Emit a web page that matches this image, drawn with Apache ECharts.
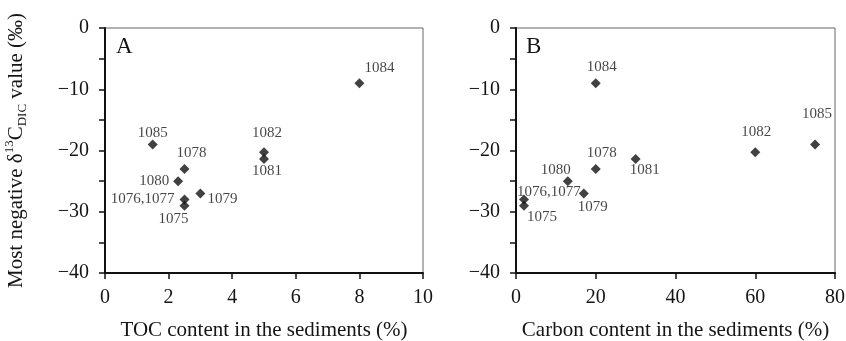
<!DOCTYPE html>
<html>
<head>
<meta charset="utf-8">
<script src="https://cdn.jsdelivr.net/npm/echarts@6/dist/echarts.min.js"></script>
<style>
  html, body { margin: 0; padding: 0; background: #fff; }
  #chart { width: 846px; height: 341px; }
</style>
</head>
<body>
<div id="chart"></div>
<script>
// site numbers and values
var sites  = ['1075', '1076,1077', '1078', '1079', '1080', '1081', '1082', '1084', '1085'];
var toc    = [2.5, 2.5, 2.5, 3, 2.3, 5, 5, 8, 1.5];        // TOC content (%)
var carbon = [2, 2, 20, 17, 13, 30, 60, 20, 75];           // carbon content (%)
var d13C   = [-29, -28, -23, -27, -25, -21.4, -20.3, -9, -19]; // most negative d13C DIC (permil)
var yTicks = [0, -10, -20, -30, -40];

// label placement (offset of label centre from the marker), per site
var offA = {
  '1075': [-11, 13], '1076,1077': [-42, 0], '1078': [7, -16], '1079': [22, 6],
  '1080': [-24, 0], '1081': [3, 12], '1082': [3, -19], '1084': [20, -15], '1085': [0, -11]
};
var offB = {
  '1075': [18, 11], '1076,1077': [25, -7], '1078': [6, -16], '1079': [9, 14],
  '1080': [-12, -11], '1081': [9, 11], '1082': [1, -20], '1084': [6, -16], '1085': [2, -30]
};

var serif = 'Liberation Serif';
var ink = '#151515';

function minus(v) { return v < 0 ? '\u2212' + Math.abs(v) : String(v); }

function points(xs, off) {
  return sites.map(function (s, i) {
    return {
      value: [xs[i], d13C[i]],
      name: s,
      label: { offset: off[s] }
    };
  });
}

function xAxisOf(gi, max, interval, title) {
  return {
    gridIndex: gi, type: 'value', min: 0, max: max, interval: interval,
    name: title, nameLocation: 'middle', nameGap: 47,
    nameTextStyle: { fontFamily: serif, fontSize: 21, color: ink },
    axisLine: { onZero: false, lineStyle: { color: '#111', width: 2 } },
    axisTick: { show: true, inside: false, length: 6, lineStyle: { color: '#111', width: 1.5 } },
    axisLabel: { fontFamily: serif, fontSize: 20, color: ink, margin: 15 },
    splitLine: { show: false }
  };
}

function yAxisOf(gi, withName) {
  var ax = {
    gridIndex: gi, type: 'value', min: -40, max: 0, interval: 5,
    axisLine: { onZero: false, lineStyle: { color: '#111', width: 2 } },
    axisTick: { show: true, inside: false, length: 6, lineStyle: { color: '#111', width: 1.5 } },
    axisLabel: {
      fontFamily: serif, fontSize: 20, color: ink, margin: 16,
      formatter: function (v) { return yTicks.indexOf(v) >= 0 ? minus(v) : ''; }
    },
    splitLine: { show: false }
  };
  if (withName) {
    ax.name = '{a|Most negative \u03b4}{sup|13}{a|C}{sub|DIC}{a| value (\u2030)}';
    ax.nameLocation = 'middle';
    ax.nameGap = 76;
    ax.nameTextStyle = {
      rich: {
        a: { fontFamily: serif, fontSize: 21, color: ink, lineHeight: 26 },
        sup: { fontFamily: serif, fontSize: 13, color: ink, verticalAlign: 'top', lineHeight: 26, padding: [0, 0, 8, 0] },
        sub: { fontFamily: serif, fontSize: 13, color: ink, verticalAlign: 'bottom', lineHeight: 26, padding: [6, 0, 0, 0] }
      }
    };
  }
  return ax;
}

function scatterOf(gi, xs, off) {
  return {
    type: 'scatter', xAxisIndex: gi, yAxisIndex: gi,
    symbol: 'diamond', symbolSize: 10,
    itemStyle: { color: '#111' },
    label: {
      show: true, position: 'inside', formatter: '{b}',
      fontFamily: serif, fontSize: 15, color: ink,
      align: 'center', verticalAlign: 'middle'
    },
    data: points(xs, off)
  };
}

var gridBase = { top: 28, height: 245, show: true, borderColor: '#666', borderWidth: 1,
  backgroundColor: 'transparent', containLabel: false, outerBoundsMode: 'none' };

var chart = echarts.init(document.getElementById('chart'), null, { renderer: 'canvas' });
chart.setOption({
  animation: false,
  backgroundColor: '#fff',
  grid: [
    Object.assign({ left: 105, width: 318 }, gridBase),
    Object.assign({ left: 516, width: 319 }, gridBase)
  ],
  xAxis: [
    xAxisOf(0, 10, 2, 'TOC content in the sediments (%)'),
    xAxisOf(1, 80, 20, 'Carbon content in the sediments (%)')
  ],
  yAxis: [yAxisOf(0, true), yAxisOf(1, false)],
  graphic: [
    { type: 'text', left: 116, top: 35, style: { text: 'A', fontFamily: serif, fontSize: 23, fill: ink } },
    { type: 'text', left: 526, top: 35, style: { text: 'B', fontFamily: serif, fontSize: 23, fill: ink } }
  ],
  series: [scatterOf(0, toc, offA), scatterOf(1, carbon, offB)]
});
</script>
</body>
</html>
